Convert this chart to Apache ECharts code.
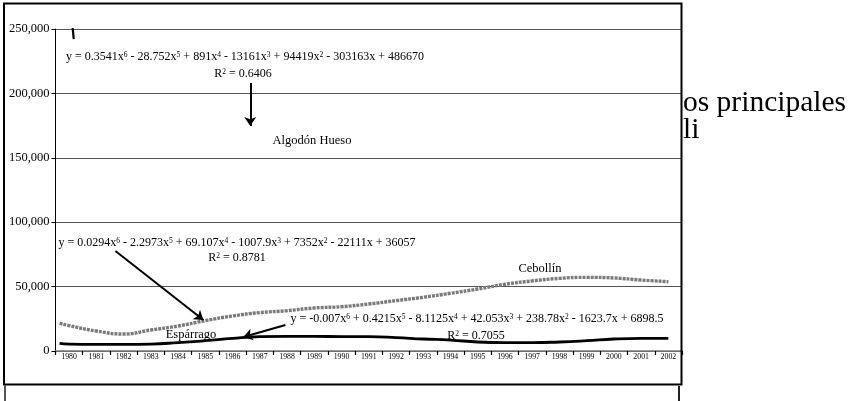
<!DOCTYPE html>
<html>
<head>
<meta charset="utf-8">
<script src="https://cdn.jsdelivr.net/npm/echarts@6/dist/echarts.min.js"></script>
<style>
html,body{margin:0;padding:0;background:#fff;}
#chart{width:852px;height:401px;}
</style>
</head>
<body>
<div id="chart"></div>
<script>
// ---- data ----
var years = ['1980','1981','1982','1983','1984','1985','1986','1987','1988','1989','1990','1991','1992','1993','1994','1995','1996','1997','1998','1999','2000','2001','2002'];
var yTicks = [0, 50000, 100000, 150000, 200000, 250000];
var trendStartYear = 1979.65;
var cebollinStart = 21500;
var cebollin = [19700, 15500, 13200, 16300, 19400, 23600, 27200, 29800, 31300, 33400, 34400, 36500, 39100, 41700, 44800, 48100, 51800, 54400, 56400, 57200, 56700, 55100, 53800];
var esparragoStart = 5950;
var esparrago = [5400, 5200, 5200, 5400, 6500, 8000, 9800, 11100, 11400, 11300, 11200, 11100, 10400, 9300, 8500, 7000, 6500, 6500, 7000, 8000, 9300, 9800, 9800];
// visible piece of the Algodón Hueso trend (rest lies above the axis max)
var algodonX = [1980.08, 1980.17];
var algodonY = [262000, 242200];
// annotation arrows: [x0, y0, x1, y1] in data units
var arrowAlgodon = [1986.65, 208000, 1986.65, 174700];
var arrowCebollin = [1981.70, 77600, 1984.93, 24100];
var arrowEsparrago = [1987.94, 20200, 1986.40, 10900];

var eqAlgodon = 'y = 0.3541x{s|6} - 28.752x{s|5} + 891x{s|4} - 13161x{s|3} + 94419x{s|2} - 303163x + 486670';
var r2Algodon = 'R{s|2} = 0.6406';
var eqCebollin = 'y = 0.0294x{s|6} - 2.2973x{s|5} + 69.107x{s|4} - 1007.9x{s|3} + 7352x{s|2} - 22111x + 36057';
var r2Cebollin = 'R{s|2} = 0.8781';
var eqEsparrago = 'y = -0.007x{s|6} + 0.4215x{s|5} - 8.1125x{s|4} + 42.053x{s|3} + 238.78x{s|2} - 1623.7x + 6898.5';
var r2Esparrago = 'R{s|2} = 0.7055';

// ---- build ----
function pairs(xs, ys){ return xs.map(function(x,i){ return [x, ys[i]]; }); }
var yearNums = years.map(Number);
var cebData = [[trendStartYear, cebollinStart]].concat(pairs(yearNums, cebollin));
var espData = [[trendStartYear, esparragoStart]].concat(pairs(yearNums, esparrago));
function arrow(a){ return [{coord:[a[0], a[1]]}, {coord:[a[2], a[3]]}]; }

var serif = '"Liberation Serif", "Times New Roman", serif';
var rich = { s: { fontSize: 7.5, fontFamily: serif, verticalAlign: 'top', lineHeight: 8, padding:[0,0,7,0] } };
function label(text, x, y, size){
  return { type:'text', x:x, y:y, z:100, silent:true,
    style:{ text:text, rich:rich, fontFamily:serif, fontSize:size||12, fill:'#000', align:'center', verticalAlign:'middle' } };
}

var chart = echarts.init(document.getElementById('chart'), null, {renderer:'canvas'});
chart.setOption({
  animation:false,
  backgroundColor:'#fff',
  grid:{ left:55.5, right:170, top:29, bottom:50, containLabel:false },
  xAxis:[{
    type:'category', data:years, boundaryGap:true,
    axisLine:{ show:true, lineStyle:{ color:'#777', width:1.5 } },
    axisTick:{ show:true, interval:0, length:4, lineStyle:{ color:'#000', width:1.2 } },
    axisLabel:{ interval:0, fontSize:7.8, fontFamily:serif, color:'#000', margin:2 },
    splitLine:{ show:false }
  },{
    type:'value', min:1979.5, max:2002.5, show:false, splitLine:{show:false}
  }],
  yAxis:{
    type:'value', min:yTicks[0], max:yTicks[yTicks.length-1], interval:yTicks[1]-yTicks[0],
    axisLine:{ show:true, lineStyle:{ color:'#000', width:1 } },
    axisTick:{ show:true, length:4, lineStyle:{ color:'#000' } },
    axisLabel:{ fontSize:12.5, fontFamily:serif, color:'#000', margin:6,
      formatter:function(v){ return v.toLocaleString('en-US'); } },
    splitLine:{ show:true, lineStyle:{ color:'#555', width:1.2 } }
  },
  series:[
    { name:'Cebollín', type:'line', xAxisIndex:1, data:cebData, smooth:0.5, showSymbol:false, symbol:'none',
      lineStyle:{ color:'#7a7a7a', width:3.4, type:[3,1] }, z:3 },
    { name:'Espárrago', type:'line', xAxisIndex:1, data:espData, smooth:0.5, showSymbol:false, symbol:'none',
      lineStyle:{ color:'#000', width:2.8 }, z:4 },
    { name:'Algodón Hueso', type:'line', xAxisIndex:1, data:pairs(algodonX, algodonY), showSymbol:false, symbol:'none',
      clip:true, lineStyle:{ color:'#000', width:2.2 }, z:4,
      markLine:{ silent:true, symbol:['none','arrow'], symbolSize:9, animation:false,
        label:{show:false}, emphasis:{disabled:true},
        lineStyle:{ color:'#000', width:2, type:'solid' },
        data:[ arrow(arrowAlgodon), arrow(arrowCebollin), arrow(arrowEsparrago) ] } }
  ],
  graphic:[
    { type:'rect', z:100, silent:true, shape:{ x:4, y:3.5, width:677.5, height:381 }, style:{ fill:'none', stroke:'#000', lineWidth:2 } },
    { type:'line', z:100, silent:true, shape:{ x1:5, y1:385, x2:5, y2:401 }, style:{ stroke:'#555', lineWidth:2 } },
    { type:'line', z:100, silent:true, shape:{ x1:679, y1:386, x2:679, y2:401 }, style:{ stroke:'#222', lineWidth:2 } },
    label(eqAlgodon, 245, 57, 12),
    label(r2Algodon, 243, 74, 12),
    label('Algodón Hueso', 312, 141, 12.5),
    label(eqCebollin, 237, 243, 12),
    label(r2Cebollin, 237, 258, 12),
    label('Cebollín', 540, 269, 12.5),
    label(eqEsparrago, 477, 319, 12),
    label(r2Esparrago, 476, 336, 12),
    label('Espárrago', 191, 335, 12.5),
    { type:'text', x:683, y:103, z:100, silent:true, style:{ text:'os principales', fontFamily:serif, fontSize:29.5, fill:'#000', align:'left', verticalAlign:'middle' } },
    { type:'text', x:683, y:130, z:100, silent:true, style:{ text:'li', fontFamily:serif, fontSize:29.5, fill:'#000', align:'left', verticalAlign:'middle' } }
  ]
});
</script>
</body>
</html>
